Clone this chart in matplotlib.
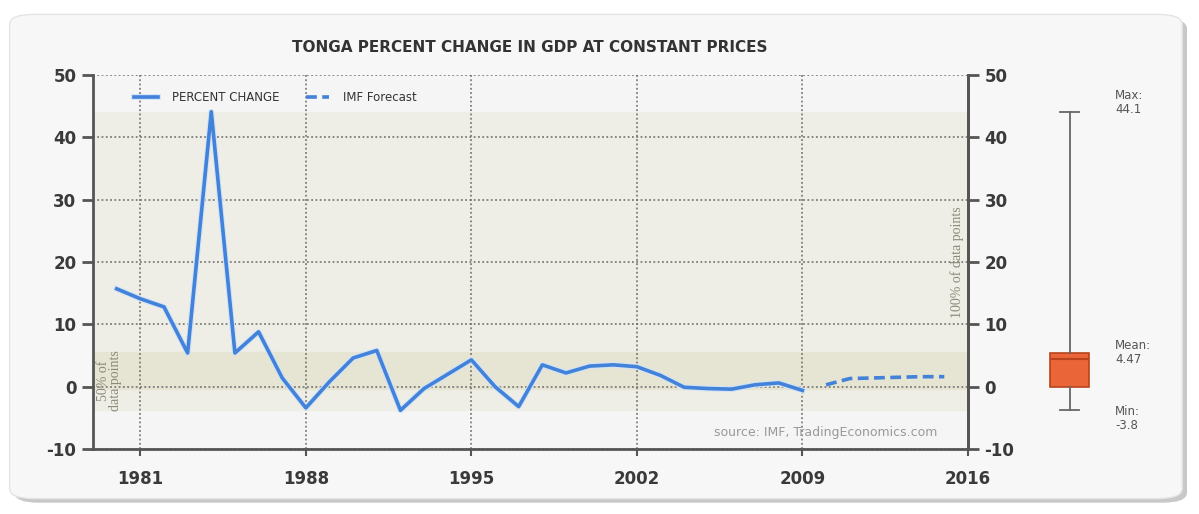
import numpy as np
import matplotlib
matplotlib.use("Agg")
import matplotlib.pyplot as plt
import matplotlib.patheffects as pe
from matplotlib.patches import FancyBboxPatch

plt.rcParams['axes.unicode_minus'] = False

# Dati: variazione percentuale del PIL di Tonga
years = list(range(1980, 2010))
pct_change = [15.7, 14.1, 12.8, 5.4, 44.1, 5.4, 8.8, 1.4, -3.4, 0.8,
              4.6, 5.8, -3.8, -0.3, 2.0, 4.3, 0.0, -3.2, 3.5, 2.2,
              3.3, 3.5, 3.2, 1.8, -0.1, -0.3, -0.4, 0.3, 0.6, -0.6]
fc_years = [2010, 2011, 2012, 2013, 2014, 2015]
fc_values = [0.3, 1.3, 1.4, 1.5, 1.6, 1.6]

x_ticks = [1981, 1988, 1995, 2002, 2009, 2016]
y_ticks = [-10, 0, 10, 20, 30, 40, 50]

# statistiche del box a destra
stat_min = -3.8
stat_q1 = 0.0
stat_q3 = 5.4
stat_mean = 4.47
stat_max = 44.1

blue = '#4282d8'
tick_col = '#3a3a3a'
halo = [pe.Stroke(linewidth=4.2, foreground='#d3e3f7'), pe.Normal()]

fig = plt.figure(figsize=(11.99, 5.14), dpi=100)
fig.patch.set_facecolor('white')

# cornice arrotondata con ombra
shadow = FancyBboxPatch((0.012, 0.022), 0.978, 0.942, boxstyle="round,pad=0,rounding_size=0.02",
                        transform=fig.transFigure, facecolor='#c8c8c8', edgecolor='none', zorder=-3)
frame = FancyBboxPatch((0.008, 0.03), 0.978, 0.942, boxstyle="round,pad=0,rounding_size=0.02",
                       transform=fig.transFigure, facecolor='#f7f7f7', edgecolor='#e4e4e4', zorder=-2)
fig.patches.extend([shadow, frame])

ax = fig.add_axes([0.0776, 0.1265, 0.7297, 0.7275])
ax.set_facecolor('#f5f5f5')
ax.set_xlim(1979, 2016)
ax.set_ylim(-10, 50)

# bande 100% e 50% dei dati
ax.axhspan(stat_min, stat_max, color='#efeee6', zorder=0)
ax.axhspan(-0.4, 5.5, color='#e6e4d2', zorder=0)

ax.plot(years, pct_change, color=blue, lw=2.6, solid_joinstyle='round', zorder=3,
        label='PERCENT CHANGE', path_effects=halo)
ax.plot(fc_years, fc_values, color=blue, lw=2.6, ls=(0, (3, 1.5)), zorder=3,
        label='IMF Forecast')

ax.grid(True, color='#6a6a6a', ls=(0, (1.2, 1.6)), lw=1.1)
ax.set_axisbelow(True)
ax.set_xticks(x_ticks)
ax.set_yticks(y_ticks)
ax.tick_params(axis='x', length=5, width=1.5, color='#555555', labelsize=12,
               labelcolor=tick_col, pad=10)
ax.tick_params(axis='y', length=8, width=2, color='#555555', labelsize=12,
               labelcolor=tick_col, pad=4)
ax.spines['top'].set_visible(False)
for s in ['left', 'bottom', 'right']:
    ax.spines[s].set_color('#555555')
    ax.spines[s].set_linewidth(2)

ax2 = ax.twinx()
ax2.set_ylim(-10, 50)
ax2.set_yticks(y_ticks)
ax2.tick_params(axis='y', length=8, width=2, color='#555555', labelsize=12,
                labelcolor=tick_col, pad=4)
for s in ['top', 'left', 'bottom']:
    ax2.spines[s].set_visible(False)
ax2.spines['right'].set_color('#555555')
ax2.spines['right'].set_linewidth(2)

for lbl in ax.get_xticklabels() + ax.get_yticklabels() + ax2.get_yticklabels():
    lbl.set_fontweight('bold')

ax.text(1979.7, 1.0, '50% of\ndata points', rotation=90, ha='center', va='center',
        fontsize=10, color='#8a8a7a', family='Liberation Serif', zorder=2, linespacing=0.95)
ax.text(2015.55, 20, '100% of data points', rotation=90, ha='center', va='center',
        fontsize=10, color='#8a8a7a', family='Liberation Serif', zorder=2)
ax.text(2014.7, -7.3, 'source: IMF, TradingEconomics.com', ha='right', va='center',
        fontsize=9, color='#999999', family='DejaVu Sans')

leg = ax.legend(loc='upper left', bbox_to_anchor=(0.035, 0.985), ncol=2, frameon=False,
                fontsize=8.5, handlelength=2.0, columnspacing=2.2, handletextpad=1.2)
for t in leg.get_texts():
    t.set_color('#333333')

fig.text(0.442, 0.908, 'TONGA PERCENT CHANGE IN GDP AT CONSTANT PRICES', ha='center',
         va='center', fontsize=11, fontweight='bold', color='#333333')

# box plot a destra
axb = fig.add_axes([0.872, 0.1265, 0.04, 0.7275])
axb.set_ylim(-10, 50)
axb.set_xlim(0.5, 1.5)
stats = [{'med': stat_mean, 'q1': stat_q1, 'q3': stat_q3, 'whislo': stat_min,
          'whishi': stat_max, 'mean': stat_mean}]
bp = axb.bxp(stats, positions=[1], widths=0.82, patch_artist=True, showfliers=False,
             boxprops=dict(facecolor='#ea6538', edgecolor='#b8431c', lw=1.2),
             medianprops=dict(color='#b8431c', lw=1.5),
             whiskerprops=dict(color='#666666', lw=1.3),
             capprops=dict(color='#666666', lw=1.3), capwidths=0.4)
axb.axis('off')
lab = dict(fontsize=8.5, color='#555555', va='center', ha='left', linespacing=1.05)
axb.text(1.95, stat_max + 1.5, f'Max:\n{stat_max}', **lab)
axb.text(1.95, stat_mean + 1.0, f'Mean:\n{stat_mean}', **lab)
axb.text(1.95, stat_min - 1.3, f'Min:\n{stat_min}', **lab)

fig.savefig('out.png', dpi=100, facecolor=fig.get_facecolor())
